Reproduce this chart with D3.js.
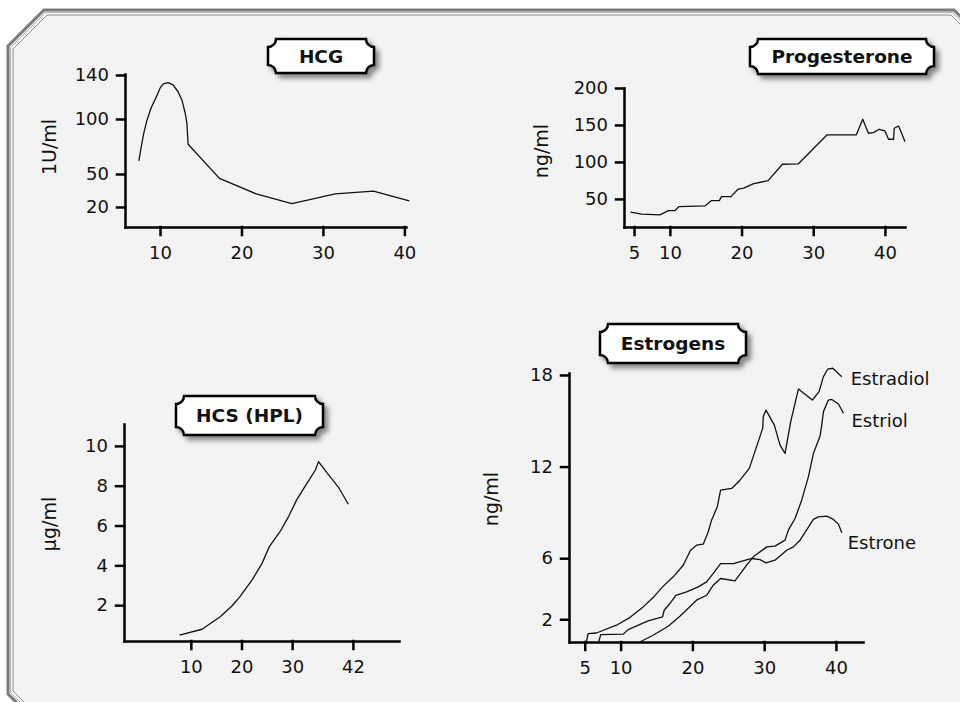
<!DOCTYPE html>
<html>
<head>
<meta charset="utf-8">
<script src="https://cdn.jsdelivr.net/npm/d3@7"></script>
<style>
  body { margin: 0; background: #fff; overflow: hidden; }
  svg { display: block; font-family: "DejaVu Sans", sans-serif; }
</style>
</head>
<body>
<script>
// --- data (gestational week vs level) ---
const hcgWeeks  = [7.4, 7.7, 8.0, 8.4, 8.9, 9.6, 10.0, 10.4, 11.0, 11.6, 12.2, 12.7, 13.1, 13.3, 13.45, 17.3, 21.8, 26.2, 31.5, 36.2, 40.6];
const hcgValues = [62, 75, 87, 99, 110, 121, 128, 132, 133, 131, 125, 117, 105, 96, 77, 46, 32, 23, 32, 34.5, 25.5];

const progWeeks  = [4.5, 6.1, 8.6, 9.8, 10.7, 11.3, 14.9, 15.8, 16.9, 17.2, 18.5, 19.5, 20.3, 21.6, 23.7, 25.7, 27.9, 31.9, 36.0, 36.9, 37.7, 38.4, 39.2, 40.0, 40.5, 41.2, 41.3, 41.9, 42.3, 42.8];
const progValues = [32, 29.3, 28.4, 34.2, 34.2, 39.6, 40.5, 47.7, 47.7, 53.1, 53.1, 63.1, 64.5, 70.3, 74.7, 96.9, 97.3, 136.5, 136.5, 157.7, 138.8, 139.6, 144.2, 141.9, 130.7, 130.7, 145.5, 148.6, 139.6, 127.4];

const hcsWeeks  = [7.75, 12.2, 15.8, 18.1, 19.7, 22.1, 24.0, 25.5, 27.6, 29.3, 30.9, 32.6, 34.6, 35.2, 37.2, 39.2, 41.1];
const hcsValues = [0.5, 0.79, 1.42, 1.96, 2.43, 3.27, 4.07, 4.94, 5.69, 6.45, 7.29, 7.99, 8.79, 9.21, 8.54, 7.9, 7.07];

const estradiolWeeks  = [5.23, 5.47, 6.63, 9.42, 11.28, 13.14, 14.53, 15.84, 17.33, 18.72, 19.74, 20.58, 21.51, 22.21, 22.67, 23.47, 23.93, 25.47, 26.63, 27.93, 29.79, 29.88, 30.26, 31.42, 32.21, 32.91, 33.70, 34.77, 36.72, 37.65, 38.26, 38.86, 39.56, 40.81];
const estradiolValues = [0.51, 1.06, 1.10, 1.61, 2.11, 2.81, 3.42, 4.12, 4.78, 5.54, 6.52, 6.85, 6.92, 7.73, 8.49, 9.37, 10.46, 10.57, 11.11, 11.88, 14.5, 15.27, 15.7, 14.72, 13.41, 12.86, 14.94, 17.08, 16.36, 16.91, 17.89, 18.39, 18.44, 17.89];

const estriolWeeks  = [12.67, 14.53, 16.63, 18.26, 20.58, 21.98, 22.91, 23.93, 25.93, 27.56, 28.49, 30.35, 31.51, 32.91, 33.37, 34.30, 35.23, 36.16, 36.86, 37.79, 38.02, 38.26, 38.95, 39.42, 40.35, 41.05];
const estriolValues = [0.51, 0.95, 1.54, 2.2, 3.25, 3.57, 4.23, 4.67, 4.51, 5.54, 6.09, 6.74, 6.79, 7.18, 7.84, 8.6, 9.8, 11.33, 12.86, 14.0, 14.72, 15.6, 16.36, 16.4, 16.1, 15.49];

const estroneWeeks  = [6.95, 7.23, 10.35, 11.05, 13.84, 15.84, 16.07, 16.86, 17.70, 19.19, 20.81, 21.98, 22.91, 23.93, 25.70, 28.26, 29.42, 30.26, 31.51, 33.14, 34.07, 35.0, 36.86, 37.56, 38.72, 39.65, 40.35, 40.81];
const estroneValues = [0.51, 0.99, 1.02, 1.32, 1.89, 2.15, 2.59, 3.03, 3.57, 3.79, 4.12, 4.45, 5.0, 5.65, 5.65, 5.98, 5.91, 5.69, 5.87, 6.52, 6.74, 7.18, 8.54, 8.71, 8.75, 8.54, 8.23, 7.66];

const hcgXTicks = [10, 20, 30, 40],  hcgYTicks = [20, 50, 100, 140];
const progXTicks = [5, 10, 20, 30, 40], progYTicks = [50, 100, 150, 200];
const hcsXTicks = [10, 20, 30, 42], hcsYTicks = [2, 4, 6, 8, 10];
const estroXTicks = [5, 10, 20, 30, 40], estroYTicks = [2, 6, 12, 18];

// --- layout ---
const panels = [
  { title: "HCG", box: [268, 39, 374, 73], yLabel: "1U/ml", yLabelAt: [56, 147],
    xRange: [125, 406], xDomain: [5.7, 40.2], yRange: [227, 74], yDomain: [1.8, 140.9],
    xTicks: hcgXTicks, yTicks: hcgYTicks, curve: d3.curveLinear,
    series: [{ x: hcgWeeks, y: hcgValues }] },
  { title: "Progesterone", box: [750, 39, 934, 74], yLabel: "ng/ml", yLabelAt: [548, 151],
    xRange: [624, 905], xDomain: [3.6, 42.8], yRange: [227, 88], yDomain: [12, 200],
    xTicks: progXTicks, yTicks: progYTicks, curve: d3.curveLinear,
    series: [{ x: progWeeks, y: progValues }] },
  { title: "HCS (HPL)", box: [176, 396, 323, 435], yLabel: "\u00b5g/ml", yLabelAt: [56, 524],
    xRange: [124, 399], xDomain: [-3.2, 51.1], yRange: [641, 424], yDomain: [0.2, 11.1],
    xTicks: hcsXTicks, yTicks: hcsYTicks, curve: d3.curveLinear,
    series: [{ x: hcsWeeks, y: hcsValues }] },
  { title: "Estrogens", box: [600, 324, 746, 363], yLabel: "ng/ml", yLabelAt: [498, 499],
    xRange: [569, 863], xDomain: [2.81, 43.77], yRange: [642, 373], yDomain: [0.51, 18.13],
    xTicks: estroXTicks, yTicks: estroYTicks, curve: d3.curveLinear,
    series: [
      { name: "Estradiol", x: estradiolWeeks, y: estradiolValues, dx: 9, dy: 8 },
      { name: "Estriol", x: estriolWeeks, y: estriolValues, dx: 8, dy: 14 },
      { name: "Estrone", x: estroneWeeks, y: estroneValues, dx: 6, dy: 16 }
    ] }
];

const svg = d3.select("body").append("svg")
  .attr("width", 960).attr("height", 702);

const defs = svg.append("defs");
defs.append("filter").attr("id", "shadow")
  .attr("x", "-20%").attr("y", "-30%").attr("width", "150%").attr("height", "190%")
  .append("feDropShadow")
  .attr("dx", 4).attr("dy", 4).attr("stdDeviation", 2.5)
  .attr("flood-color", "#000").attr("flood-opacity", 0.45);

// frame with cut corners (right and bottom edges run off the page)
function chamfer(l, t, r, b, c) {
  return [[l, t + c], [l + c, t], [r - c, t], [r, t + c], [r, b - c], [r - c, b], [l + c, b], [l, b - c]];
}
const line = d3.line().curve(d3.curveLinearClosed);
svg.append("path").attr("d", line(chamfer(8, 10, 990, 730, 36)))
  .attr("fill", "#f3f3f3").attr("stroke", "#7a7a7a").attr("stroke-width", 3);
svg.append("path").attr("d", line(chamfer(10.5, 12.5, 987.5, 727.5, 35)))
  .attr("fill", "none").attr("stroke", "#b0b0b0").attr("stroke-width", 1);
svg.append("path").attr("d", line(chamfer(12, 14, 986, 726, 34.4)))
  .attr("fill", "none").attr("stroke", "#fff").attr("stroke-width", 1);
svg.append("path").attr("d", line(chamfer(13, 15, 985, 725, 34)))
  .attr("fill", "none").attr("stroke", "#8c8c8c").attr("stroke-width", 1);

function boxPath(x0, y0, x1, y1, r) {
  return `M${x0 + r},${y0} H${x1 - r} A${r},${r} 0 0 0 ${x1},${y0 + r} V${y1 - r}` +
         ` A${r},${r} 0 0 0 ${x1 - r},${y1} H${x0 + r} A${r},${r} 0 0 0 ${x0},${y1 - r}` +
         ` V${y0 + r} A${r},${r} 0 0 0 ${x0 + r},${y0} Z`;
}

panels.forEach(p => {
  const g = svg.append("g");
  const x = d3.scaleLinear().domain(p.xDomain).range(p.xRange);
  const y = d3.scaleLinear().domain(p.yDomain).range(p.yRange);

  const xAxis = g.append("g")
    .attr("transform", `translate(0,${p.yRange[0]})`)
    .call(d3.axisBottom(x).tickValues(p.xTicks).tickSize(8).tickSizeOuter(0).tickPadding(11));
  const yAxis = g.append("g")
    .attr("transform", `translate(${p.xRange[0]},0)`)
    .call(d3.axisLeft(y).tickValues(p.yTicks).tickSize(8).tickSizeOuter(0).tickPadding(8));
  [xAxis, yAxis].forEach(a => {
    a.attr("font-family", null).attr("font-size", null);
    a.selectAll("path, line").attr("stroke", "#000").attr("stroke-width", 2.5).attr("stroke-linecap", "square");
    a.selectAll("text")
      .style("font-family", "'DejaVu Sans', sans-serif")
      .style("font-size", "18px").attr("fill", "#111");
  });

  p.series.forEach(s => {
    const pts = s.x.map((d, i) => [d, s.y[i]]);
    g.append("path")
      .attr("d", d3.line().x(d => x(d[0])).y(d => y(d[1])).curve(p.curve)(pts))
      .attr("fill", "none").attr("stroke", "#111").attr("stroke-width", 1.3)
      .attr("stroke-linejoin", "round");
    if (s.name) {
      const last = pts[pts.length - 1];
      g.append("text")
        .attr("x", x(last[0]) + s.dx).attr("y", y(last[1]) + s.dy)
        .style("font-size", "18px").attr("fill", "#111")
        .text(s.name);
    }
  });

  g.append("text")
    .attr("transform", `translate(${p.yLabelAt[0]},${p.yLabelAt[1]}) rotate(-90)`)
    .attr("text-anchor", "middle")
    .style("font-size", "19px").attr("fill", "#111")
    .text(p.yLabel);

  const [bx0, by0, bx1, by1] = p.box;
  g.append("path").attr("d", boxPath(bx0, by0, bx1, by1, 8))
    .attr("fill", "#fff").attr("stroke", "#000").attr("stroke-width", 2.5)
    .attr("filter", "url(#shadow)");
  g.append("text")
    .attr("x", (bx0 + bx1) / 2).attr("y", (by0 + by1) / 2)
    .attr("text-anchor", "middle").attr("dominant-baseline", "central")
    .style("font-size", "18.5px").style("font-weight", "bold").attr("fill", "#111")
    .text(p.title);
});
</script>
</body>
</html>
